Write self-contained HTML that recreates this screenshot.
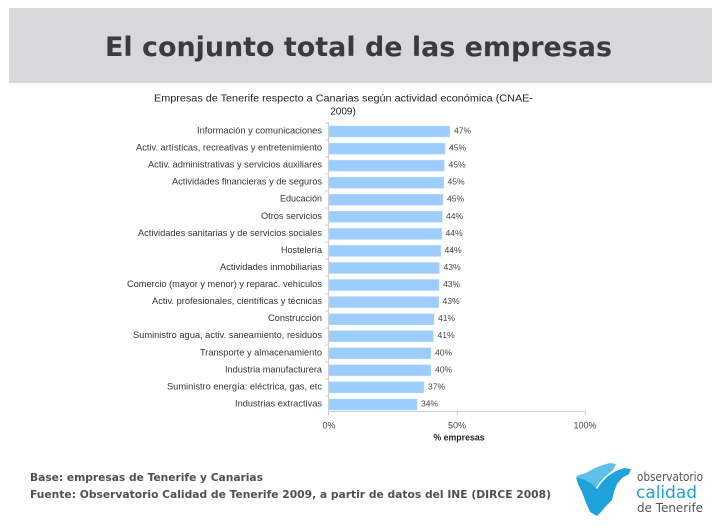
<!DOCTYPE html>
<html><head><meta charset="utf-8"><style>
html,body{margin:0;padding:0;background:#fff;}
svg{display:block;}
</style></head><body>
<svg width="720" height="529" viewBox="0 0 720 529" xmlns="http://www.w3.org/2000/svg">
<rect x="0" y="0" width="720" height="529" fill="#ffffff"/>
<rect x="9" y="8" width="703" height="75" fill="#d8d7d9"/>
<text x="105" y="56" font-family="DejaVu Sans, Liberation Sans, sans-serif" font-weight="bold" font-size="26.5" fill="#3b3a3d" textLength="507" lengthAdjust="spacingAndGlyphs">El conjunto total de las empresas</text>

<g font-family="Liberation Sans, Arial, sans-serif" fill="#222">
<text x="154" y="101.5" font-size="10" textLength="379" lengthAdjust="spacingAndGlyphs">Empresas de Tenerife respecto a Canarias según actividad económica (CNAE-</text>
<text x="343" y="114.5" font-size="10" text-anchor="middle">2009)</text>
</g>

<!-- axes -->
<g stroke="#cfcfcf" stroke-width="1" fill="none">
<line x1="328.5" y1="122" x2="328.5" y2="411.5"/>
<line x1="328" y1="411.5" x2="585" y2="411.5"/>
<line x1="457.5" y1="411" x2="457.5" y2="415"/>
<line x1="585.5" y1="411" x2="585.5" y2="415"/>
<line x1="328.5" y1="411" x2="328.5" y2="415"/>
<path d="M325 123h3 M325 140h3 M325 157h3 M325 174h3 M325 191h3 M325 208h3 M325 225h3 M325 242h3 M325 259h3 M325 276h3 M325 294h3 M325 311h3 M325 328h3 M325 345h3 M325 362h3 M325 379h3 M325 396h3"/>
</g>

<!-- bars -->
<g fill="#9ccdfc" stroke="#b8dafc" stroke-width="0.6">
<rect x="329" y="126" width="120.7" height="11"/>
<rect x="329" y="143.1" width="116" height="11"/>
<rect x="329" y="160.1" width="115.3" height="11"/>
<rect x="329" y="177.2" width="114.7" height="11"/>
<rect x="329" y="194.2" width="114" height="11"/>
<rect x="329" y="211.3" width="113.3" height="11"/>
<rect x="329" y="228.4" width="112.7" height="11"/>
<rect x="329" y="245.4" width="111.7" height="11"/>
<rect x="329" y="262.5" width="110.3" height="11"/>
<rect x="329" y="279.5" width="110" height="11"/>
<rect x="329" y="296.6" width="109.7" height="11"/>
<rect x="329" y="313.7" width="105" height="11"/>
<rect x="329" y="330.7" width="104.3" height="11"/>
<rect x="329" y="347.8" width="101.7" height="11"/>
<rect x="329" y="364.8" width="101.7" height="11"/>
<rect x="329" y="381.9" width="95" height="11"/>
<rect x="329" y="399" width="88" height="11"/>
</g>

<!-- category labels -->
<g font-family="Liberation Sans, Arial, sans-serif" font-size="9.2" fill="#333">
<text x="197" y="133.5" textLength="125" lengthAdjust="spacingAndGlyphs">Información y comunicaciones</text>
<text x="136" y="150.6" textLength="186" lengthAdjust="spacingAndGlyphs">Activ. artísticas, recreativas y entretenimiento</text>
<text x="148" y="167.6" textLength="174" lengthAdjust="spacingAndGlyphs">Activ. administrativas y servicios auxiliares</text>
<text x="172" y="184.7" textLength="150" lengthAdjust="spacingAndGlyphs">Actividades financieras y de seguros</text>
<text x="280" y="201.7" textLength="42" lengthAdjust="spacingAndGlyphs">Educación</text>
<text x="261" y="218.8" textLength="61" lengthAdjust="spacingAndGlyphs">Otros servicios</text>
<text x="138" y="235.9" textLength="184" lengthAdjust="spacingAndGlyphs">Actividades sanitarias y de servicios sociales</text>
<text x="281" y="252.9" textLength="41" lengthAdjust="spacingAndGlyphs">Hostelería</text>
<text x="220" y="270" textLength="102" lengthAdjust="spacingAndGlyphs">Actividades inmobiliarias</text>
<text x="127" y="287" textLength="195" lengthAdjust="spacingAndGlyphs">Comercio (mayor y menor) y reparac. vehículos</text>
<text x="152" y="304.1" textLength="170" lengthAdjust="spacingAndGlyphs">Activ. profesionales, científicas y técnicas</text>
<text x="268" y="321.2" textLength="54" lengthAdjust="spacingAndGlyphs">Construcción</text>
<text x="133" y="338.2" textLength="189" lengthAdjust="spacingAndGlyphs">Suministro agua, activ. saneamiento, residuos</text>
<text x="200" y="355.3" textLength="122" lengthAdjust="spacingAndGlyphs">Transporte y almacenamiento</text>
<text x="225" y="372.3" textLength="97" lengthAdjust="spacingAndGlyphs">Industria manufacturera</text>
<text x="167" y="389.4" textLength="155" lengthAdjust="spacingAndGlyphs">Suministro energía: eléctrica, gas, etc</text>
<text x="235" y="406.5" textLength="87" lengthAdjust="spacingAndGlyphs">Industrias extractivas</text>
</g>

<!-- value labels -->
<g font-family="Liberation Sans, Arial, sans-serif" font-size="8.6" fill="#444">
<text x="454" y="133.5">47%</text>
<text x="449" y="150.6">45%</text>
<text x="448.5" y="167.6">45%</text>
<text x="447.5" y="184.7">45%</text>
<text x="447" y="201.7">45%</text>
<text x="446" y="218.8">44%</text>
<text x="445.5" y="235.9">44%</text>
<text x="444.5" y="252.9">44%</text>
<text x="443.5" y="270">43%</text>
<text x="443" y="287">43%</text>
<text x="442.5" y="304.1">43%</text>
<text x="438" y="321.2">41%</text>
<text x="437.5" y="338.2">41%</text>
<text x="435" y="355.3">40%</text>
<text x="435" y="372.3">40%</text>
<text x="428" y="389.4">37%</text>
<text x="421" y="406.5">34%</text>
</g>

<!-- axis tick labels -->
<g font-family="Liberation Sans, Arial, sans-serif" font-size="9" fill="#444" text-anchor="middle">
<text x="329" y="428.5">0%</text>
<text x="457" y="428.5">50%</text>
<text x="585" y="428.5">100%</text>
<text x="459" y="440.5" font-weight="bold" fill="#222" font-size="8.8">% empresas</text>
</g>

<!-- footer -->
<g font-family="DejaVu Sans, Liberation Sans, sans-serif" font-weight="bold" font-size="10.5" fill="#505050">
<text x="30" y="481" textLength="233" lengthAdjust="spacingAndGlyphs">Base: empresas de Tenerife y Canarias</text>
<text x="30" y="498" textLength="521" lengthAdjust="spacingAndGlyphs">Fuente: Observatorio Calidad de Tenerife 2009, a partir de datos del INE (DIRCE 2008)</text>
</g>

<!-- logo -->
<g>
<path d="M576 476 L586 473 L595 468 L603 465 L610 463 L616 464 L613 470 L606 476 L600 482 L596 488 L590 484 L582 480 Z" fill="#5cc0ea"/>
<path d="M576 477 L585 480 L592 484 L597 489 L602 482 L608 476 L616 471 L624 468 L631 469 L629 474 L622 478 L617 484 L614 492 L612 500 L606 506 L601 512 L597 516 L590 512 L586 503 L582 492 L578 484 Z" fill="#1ea2dc"/>
<text x="637" y="481" font-family="DejaVu Sans, Liberation Sans, sans-serif" font-size="12" fill="#555" textLength="66" lengthAdjust="spacingAndGlyphs">observatorio</text>
<text x="636" y="498" font-family="DejaVu Sans, Liberation Sans, sans-serif" font-size="17" fill="#1ea2dc" textLength="61" lengthAdjust="spacingAndGlyphs">calidad</text>
<text x="637" y="512" font-family="DejaVu Sans, Liberation Sans, sans-serif" font-size="12" fill="#555" textLength="66" lengthAdjust="spacingAndGlyphs">de Tenerife</text>
</g>
</svg>
</body></html>
